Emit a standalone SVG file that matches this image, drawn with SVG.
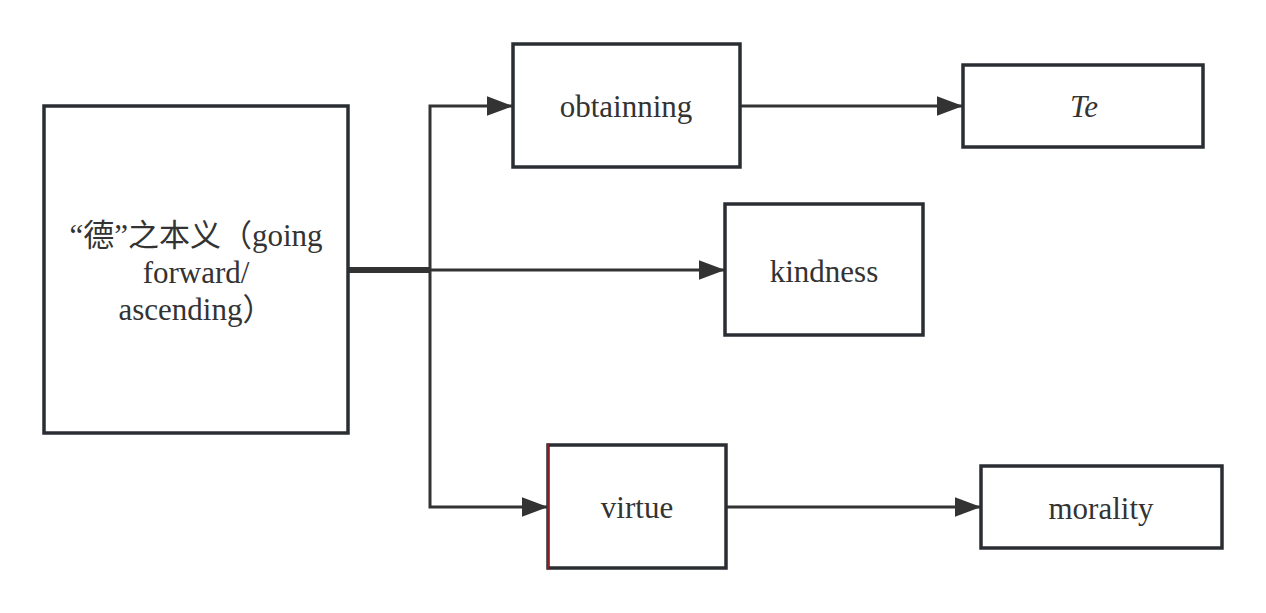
<svg xmlns="http://www.w3.org/2000/svg" width="1266" height="613" viewBox="0 0 1266 613">
<style>
.box{fill:#fff;stroke:#2a2e33;stroke-width:3.5}
.lbl{font-family:'Liberation Serif','Times New Roman',Times,'DejaVu Serif','Noto Sans CJK SC',serif;font-size:31px;fill:#333;text-anchor:middle}
.con{fill:none;stroke:#333;stroke-width:3}
</style>
<defs>
<marker id="arr" markerUnits="userSpaceOnUse" markerWidth="26" markerHeight="20" viewBox="0 0 24 18" refX="24" refY="9" orient="auto">
<path d="M0,0 L24,9 L0,18 Z" fill="#333"/>
</marker>
</defs>
<rect width="1266" height="613" fill="#fff"/>
<g id="connectors">
<path class="con" d="M348,268.5 H430 V106 H513" marker-end="url(#arr)"/>
<path class="con" d="M348,271.5 H430 V507 H548" marker-end="url(#arr)"/>
<path class="con" d="M348,270 H725" marker-end="url(#arr)"/>
<path class="con" d="M740,106 H963" marker-end="url(#arr)"/>
<path class="con" d="M726,507 H981" marker-end="url(#arr)"/>
</g>
<g id="node-main">
<rect class="box" x="44" y="106" width="304" height="327"/>
<text class="lbl" x="196" y="246">“德”之本义（going</text>
<text class="lbl" x="196" y="283">forward/</text>
<text class="lbl" x="196" y="320">ascending）</text>
</g>
<g id="node-obtainning">
<rect class="box" x="513" y="44" width="227" height="123"/>
<text class="lbl" x="626" y="117">obtainning</text>
</g>
<g id="node-te">
<rect class="box" x="963" y="65" width="240" height="82"/>
<text class="lbl" x="1084" y="117" font-style="italic">Te</text>
</g>
<g id="node-kindness">
<rect class="box" x="725" y="204" width="198" height="131"/>
<text class="lbl" x="824" y="282">kindness</text>
</g>
<g id="node-virtue">
<rect class="box" x="548" y="445" width="178" height="123"/>
<line x1="548" y1="443.5" x2="548" y2="569.5" stroke="#8b1e22" stroke-width="2"/>
<text class="lbl" x="637" y="518">virtue</text>
</g>
<g id="node-morality">
<rect class="box" x="981" y="466" width="241" height="82"/>
<text class="lbl" x="1101" y="519">morality</text>
</g>
</svg>
